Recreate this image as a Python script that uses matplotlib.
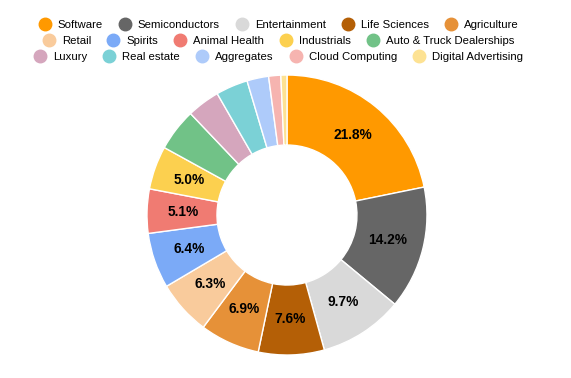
import matplotlib.pyplot as plt
from matplotlib.lines import Line2D

plt.rcParams['font.family'] = ['Liberation Sans', 'DejaVu Sans']

# Sector shares (percent), clockwise from 12 o'clock
sectors = ['Software', 'Semiconductors', 'Entertainment', 'Life Sciences', 'Agriculture',
           'Retail', 'Spirits', 'Animal Health', 'Industrials', 'Auto & Truck Dealerships',
           'Luxury', 'Real estate', 'Aggregates', 'Cloud Computing', 'Digital Advertising']
shares = [21.8, 14.2, 9.7, 7.6, 6.9, 6.3, 6.4, 5.1, 5.0, 4.9, 3.8, 3.7, 2.5, 1.4, 0.7]
colors = ['#ff9900', '#666666', '#d9d9d9', '#b45f06', '#e69138',
          '#f9cb9c', '#7baaf7', '#f07b72', '#fcd04f', '#71c287',
          '#d5a6bd', '#7bd1d6', '#aecbfa', '#f6b4b0', '#fde293']

fig = plt.figure(figsize=(5.71, 3.78), dpi=100)
ax = fig.add_axes([0.2574, 0.0608, 0.4904, 0.7407])


def fmt(p):
    return f'{p:.1f}%' if p >= 4.95 else ''


wedges, texts, autotexts = ax.pie(
    shares, colors=colors, startangle=90, counterclock=False, radius=1.0,
    autopct=fmt, pctdistance=0.74,
    wedgeprops=dict(width=0.5, edgecolor='white', linewidth=1),
    textprops=dict(fontsize=9.9, fontweight='bold', color='black'))
ax.set_xlim(-1, 1)
ax.set_ylim(-1, 1)
ax.set_aspect('equal')
ax.axis('off')

# three centred legend rows
row_y = [1 - 25 / 378, 1 - 41 / 378, 1 - 57 / 378]
for r in range(3):
    idx = range(r * 5, r * 5 + 5)
    handles = [Line2D([], [], marker='o', linestyle='', markersize=9,
                      markerfacecolor=colors[i], markeredgecolor=colors[i]) for i in idx]
    fig.legend(handles, [sectors[i] for i in idx], loc='center',
               bbox_to_anchor=(0.488, row_y[r]), ncol=5, frameon=False,
               fontsize=8.2, handlelength=1.0, handletextpad=0.64,
               columnspacing=1.43, borderpad=0, borderaxespad=0)

fig.savefig('out.png', dpi=100)
